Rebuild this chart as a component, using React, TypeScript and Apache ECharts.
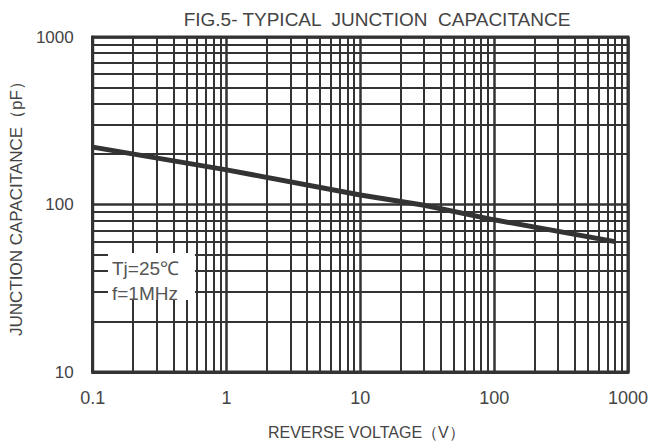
import React, { useEffect, useRef } from "react";
import * as echarts from "echarts";

const voltages = [0.1, 1, 10, 30, 100, 800];
const capacitance = [220, 161, 114, 99, 81, 60];
const xTicks = [0.1, 1, 10, 100, 1000];
const yTicks = [10, 100, 1000];
const titleText = "FIG.5- TYPICAL  JUNCTION  CAPACITANCE";
const xName = "REVERSE VOLTAGE（V）";
const yName = "JUNCTION CAPACITANCE（pF）";
const noteLines = ["Tj=25℃", "f=1MHz"];

function minorValues(decades: number[]): number[] {
  const out: number[] = [];
  decades.forEach((d) => {
    for (let k = 2; k <= 9; k++) out.push(+(d * k).toPrecision(6));
  });
  return out;
}

export default function App() {
  const ref = useRef<HTMLDivElement>(null);
  useEffect(() => {
    if (!ref.current) return;
    const chart = echarts.init(ref.current, undefined, { renderer: "svg" });
    const gridColor = "#333";
    const xMinor = minorValues([0.1, 1, 10, 100]);
    const yMinor = minorValues([10, 100]);
    const textColor = "#444";
    const font = "Liberation Sans";
    chart.setOption({
      animation: false,
      title: {
        text: titleText,
        left: 372,
        textAlign: "center",
        top: 5,
        textStyle: { fontSize: 19, fontWeight: "normal", color: textColor, fontFamily: font },
      },
      grid: {
        left: 91,
        right: 21,
        top: 37,
        bottom: 74,
        show: true,
        borderColor: gridColor,
        borderWidth: 3,
        backgroundColor: "#fff",
      },
      xAxis: {
        type: "log",
        logBase: 10,
        min: 0.1,
        max: 1000,
        name: xName,
        nameLocation: "middle",
        nameGap: 52,
        nameTextStyle: { fontSize: 16, color: textColor, fontFamily: font, padding: [0, 0, 0, 12] },
        axisLine: { show: true, lineStyle: { color: gridColor, width: 3 } },
        axisTick: { show: false },
        axisLabel: {
          fontSize: 18,
          color: textColor,
          fontFamily: font,
          margin: 17,
          formatter: (v: number) => (xTicks.some((t) => Math.abs(t - v) / t < 1e-6) ? String(v) : ""),
        },
        splitLine: { show: true, lineStyle: { color: gridColor, width: 2.5 } },
      },
      yAxis: {
        type: "log",
        logBase: 10,
        min: 10,
        max: 1000,
        name: yName,
        nameLocation: "middle",
        nameGap: 61,
        nameRotate: 90,
        nameTextStyle: { fontSize: 17, color: textColor, fontFamily: font },
        axisLine: { show: true, lineStyle: { color: gridColor, width: 3 } },
        axisTick: { show: false },
        axisLabel: {
          fontSize: 17,
          color: textColor,
          fontFamily: font,
          margin: 19,
          formatter: (v: number) => (yTicks.some((t) => Math.abs(t - v) / t < 1e-6) ? String(v) : ""),
        },
        splitLine: { show: true, lineStyle: { color: gridColor, width: 2.5 } },
      },
      series: [
        {
          type: "line",
          data: [],
          z: 1,
          silent: true,
          markLine: {
            silent: true,
            symbol: ["none", "none"],
            label: { show: false },
            lineStyle: { color: gridColor, width: 2, type: "solid" },
            emphasis: { disabled: true },
            data: [
              ...xMinor.map((v) => ({ xAxis: v })),
              ...yMinor.map((v) => ({ yAxis: v })),
            ],
          },
        },
        {
          type: "line",
          z: 5,
          data: voltages.map((v, i) => [v, capacitance[i]]),
          showSymbol: false,
          symbol: "none",
          lineStyle: { color: "#333", width: 5 },
        },
      ],
      graphic: [
        {
          type: "rect",
          z: 100,
          shape: { x: 108, y: 253, width: 87, height: 47 },
          style: { fill: "#fff" },
        },
        {
          type: "text",
          z: 101,
          x: 112,
          y: 268,
          style: { text: noteLines[0], fontSize: 19, fill: "#555", fontFamily: font, verticalAlign: "middle" },
        },
        {
          type: "text",
          z: 101,
          x: 112,
          y: 293,
          style: { text: noteLines[1], fontSize: 19, fill: "#555", fontFamily: font, verticalAlign: "middle" },
        },
      ],
    });
    return () => chart.dispose();
  }, []);
  return (
    <div
      ref={ref}
      style={{ position: "absolute", left: 0, top: 0, width: 651, height: 446, background: "#fff" }}
    />
  );
}
